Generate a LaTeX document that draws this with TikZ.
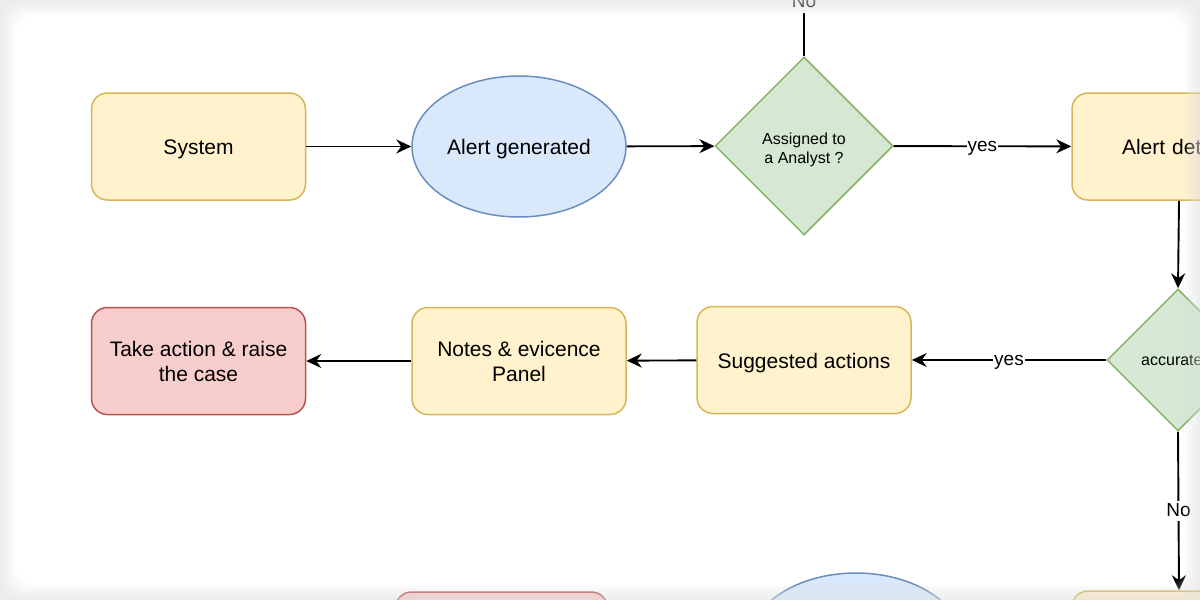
\documentclass[tikz,border=0pt]{standalone}
\usepackage{fontspec}
\setmainfont{Liberation Sans}
\usetikzlibrary{shapes.geometric,arrows.meta}
\definecolor{yfill}{HTML}{FFF2CC}
\definecolor{ystroke}{HTML}{D6B656}
\definecolor{bfill}{HTML}{DAE8FC}
\definecolor{bstroke}{HTML}{6C8EBF}
\definecolor{gfill}{HTML}{D5E8D4}
\definecolor{gstroke}{HTML}{82B366}
\definecolor{rfill}{HTML}{F8CECC}
\definecolor{rstroke}{HTML}{B85450}
\definecolor{edgegray}{HTML}{E6E6E6}
\begin{document}
\begin{tikzpicture}[x=1pt,y=-1pt,
  box/.style={draw, rounded corners=16pt, line width=1.5pt, minimum width=214pt,
    minimum height=107pt, inner sep=0pt, align=center, font=\fontsize{21}{25}\selectfont},
  ybox/.style={box, draw=ystroke, fill=yfill},
  rbox/.style={box, draw=rstroke, fill=rfill},
  one/.style={text height=18pt, text depth=2pt},
  ell/.style={ellipse, draw=bstroke, fill=bfill, line width=1.5pt, minimum width=214pt,
    minimum height=141pt, inner sep=0pt, font=\fontsize{21}{25}\selectfont},
  dia/.style={diamond, draw=gstroke, fill=gfill, line width=1.5pt, inner sep=0pt},
  diatext/.style={inner sep=0pt, align=center, font=\fontsize{16}{19}\selectfont},
  conn/.style={line width=1.9pt, -{Stealth[length=15pt,width=14pt,inset=5pt]}},
  plain/.style={line width=1.9pt},
  lbl/.style={fill=white, inner sep=1pt, text height=14pt, text depth=4pt,
    font=\fontsize{19}{22}\selectfont}
]
\useasboundingbox (0,0) rectangle (1200,600);
\clip (0,0) rectangle (1200,600);
\fill[white] (0,0) rectangle (1200,600);

% row 1
\node[ybox, one] (sys) at (198.5,146.5) {System};
\node[ell, one] (gen) at (519,146.5) {Alert generated};
\node[dia, minimum width=178pt, minimum height=178pt] (d1) at (804,146) {};
\node[diatext] (d1t) at (804,150) {Assigned to\\ a Analyst ?};
\node[ybox, one, text width=114pt, inner xsep=50pt, align=left] (det) at (1179,146.5) {Alert det};
\coordinate (topend) at (804,-51);

% row 2
\node[dia, minimum width=142pt, minimum height=142pt] (d2) at (1178,360) {};
\node[diatext, anchor=west, text height=12pt, text depth=2pt] (d2t) at (1141,360) {accurate};
\node[ybox, one] (sug) at (804,360) {Suggested actions};
\node[ybox] (notes) at (519,361) {Notes \& evicence\\Panel};
\node[rbox] (take) at (198.5,361) {Take action \& raise\\the case};

% row 3 (cut off)
\node[rbox, minimum width=212pt] (r3a) at (501.5,645.5) {};
\node[ell] (r3b) at (856,643.5) {};
\node[ybox] (r3c) at (1179,644.5) {};

% connectors
\draw[conn] (sys) -- (gen);
\draw[conn] (gen) -- (d1);
\draw[conn] (d1) -- node[lbl] {yes} (det);
\draw[plain] (d1.north) -- node[lbl] {No} (topend);
\draw[conn] (det.south) -- (d2.north);
\draw[conn] (d2) -- node[lbl] {yes} (sug);
\draw[conn] (sug) -- (notes);
\draw[conn] (notes) -- (take);
\draw[conn] (d2.south) -- node[lbl] {No} (r3c.north);

% card edge shading
\foreach \d in {0,1,...,15} {
  \fill[edgegray, opacity=0.05, even odd rule] (0,0) rectangle (1200,600)
    {[rounded corners=20pt] (\d,\d) rectangle (1200-\d,600-\d)};
}
\end{tikzpicture}
\end{document}
